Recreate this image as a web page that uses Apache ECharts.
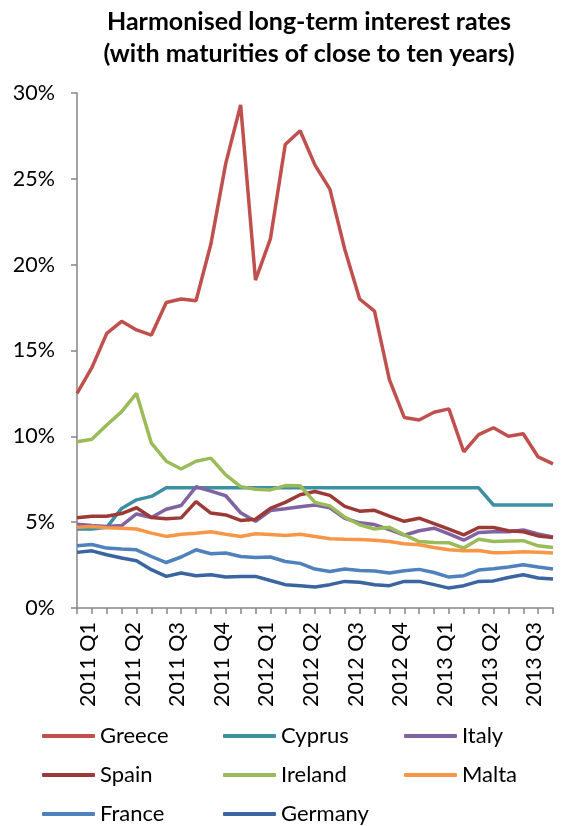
<!DOCTYPE html>
<html>
<head>
<meta charset="utf-8">
<script src="https://cdn.jsdelivr.net/npm/echarts@6/dist/echarts.min.js"></script>
<style>
  html, body { margin: 0; padding: 0; background: #fff; }
  #chart { width: 582px; height: 826px; }
</style>
</head>
<body>
<div id="chart"></div>
<script>
// monthly observations, Mar 2011 .. Nov 2013
var months = [
  "2011-03", "2011-04", "2011-05", "2011-06", "2011-07", "2011-08", "2011-09", "2011-10", "2011-11", "2011-12",
  "2012-01", "2012-02", "2012-03", "2012-04", "2012-05", "2012-06", "2012-07", "2012-08", "2012-09", "2012-10", "2012-11", "2012-12",
  "2013-01", "2013-02", "2013-03", "2013-04", "2013-05", "2013-06", "2013-07", "2013-08", "2013-09", "2013-10", "2013-11"
];
// one label every third month
var quarterLabels = [
  "2011 Q1", "2011 Q2", "2011 Q3", "2011 Q4",
  "2012 Q1", "2012 Q2", "2012 Q3", "2012 Q4",
  "2013 Q1", "2013 Q2", "2013 Q3"
];

var greece = [12.5, 14.0, 16.0, 16.7, 16.2, 15.9, 17.8, 18.0, 17.9, 21.2, 25.9, 29.3, 19.1, 21.5, 27.0, 27.8, 25.8, 24.4, 20.9, 18.0, 17.3, 13.3, 11.1, 10.95, 11.4, 11.6, 9.1, 10.1, 10.5, 10.0, 10.15, 8.8, 8.4];
var cyprus = [4.6, 4.6, 4.7, 5.8, 6.3, 6.5, 7.0, 7.0, 7.0, 7.0, 7.0, 7.0, 7.0, 7.0, 7.0, 7.0, 7.0, 7.0, 7.0, 7.0, 7.0, 7.0, 7.0, 7.0, 7.0, 7.0, 7.0, 7.0, 6.0, 6.0, 6.0, 6.0, 6.0];
var italy = [4.88, 4.8, 4.75, 4.8, 5.48, 5.27, 5.75, 5.97, 7.06, 6.81, 6.54, 5.55, 5.05, 5.68, 5.78, 5.9, 6.0, 5.84, 5.23, 4.96, 4.86, 4.56, 4.24, 4.5, 4.65, 4.32, 3.95, 4.4, 4.44, 4.44, 4.54, 4.31, 4.14];
var spain = [5.26, 5.35, 5.35, 5.5, 5.84, 5.27, 5.2, 5.25, 6.2, 5.53, 5.42, 5.1, 5.17, 5.8, 6.15, 6.6, 6.79, 6.56, 5.92, 5.64, 5.69, 5.35, 5.05, 5.23, 4.91, 4.6, 4.26, 4.69, 4.69, 4.5, 4.44, 4.2, 4.1];
var ireland = [9.69, 9.83, 10.66, 11.44, 12.5, 9.6, 8.55, 8.1, 8.55, 8.73, 7.75, 7.07, 6.92, 6.88, 7.13, 7.12, 6.15, 5.95, 5.29, 4.85, 4.6, 4.7, 4.26, 3.87, 3.82, 3.8, 3.49, 4.0, 3.87, 3.9, 3.92, 3.62, 3.53];
var malta = [4.71, 4.75, 4.67, 4.65, 4.6, 4.36, 4.17, 4.3, 4.36, 4.44, 4.3, 4.17, 4.32, 4.28, 4.22, 4.3, 4.17, 4.03, 4.0, 3.99, 3.95, 3.87, 3.74, 3.68, 3.53, 3.39, 3.33, 3.35, 3.22, 3.24, 3.27, 3.25, 3.2];
var france = [3.62, 3.7, 3.49, 3.43, 3.39, 3.0, 2.65, 2.97, 3.39, 3.16, 3.2, 3.0, 2.94, 2.97, 2.71, 2.6, 2.27, 2.13, 2.27, 2.19, 2.15, 2.04, 2.17, 2.25, 2.07, 1.8, 1.88, 2.21, 2.29, 2.39, 2.52, 2.39, 2.27];
var germany = [3.24, 3.33, 3.1, 2.91, 2.75, 2.23, 1.84, 2.04, 1.88, 1.94, 1.8, 1.84, 1.84, 1.6, 1.36, 1.3, 1.22, 1.36, 1.55, 1.5, 1.36, 1.3, 1.55, 1.55, 1.36, 1.16, 1.3, 1.55, 1.58, 1.78, 1.94, 1.75, 1.69];

var FONT = "Lato";
var colors = {
  Greece: "#c0504d",
  Cyprus: "#3d8fa4",
  Italy: "#8064a2",
  Spain: "#9b3a37",
  Ireland: "#9bbb59",
  Malta: "#f79646",
  France: "#4f81bd",
  Germany: "#3a65a0"
};

function makeLine(name, data) {
  return {
    name: name,
    type: "line",
    data: data,
    showSymbol: false,
    symbol: "none",
    color: colors[name],
    lineStyle: { width: 3.5, color: colors[name] },
    emphasis: { disabled: true },
    animation: false
  };
}

// one legend per row, fixed text width so the columns line up
function makeLegend(top, names) {
  return {
    orient: "horizontal",
    left: 42,
    right: 0,
    top: top,
    padding: 0,
    data: names,
    icon: "roundRect",
    itemWidth: 53,
    itemHeight: 4,
    itemGap: 5,
    selectedMode: false,
    textStyle: { fontFamily: FONT, fontSize: 22, color: "#000", lineHeight: 24, width: 118 }
  };
}

var chartDom = document.getElementById("chart");
var myChart = echarts.init(chartDom, null, { renderer: "canvas" });
var option;

option = {
  backgroundColor: "#fff",
  title: {
    text: "Harmonised long-term interest rates\n(with maturities of close to ten years)",
    left: 309,
    textAlign: "center",
    top: 6,
    padding: 0,
    textStyle: {
      fontFamily: FONT,
      fontWeight: "bold",
      fontSize: 25,
      lineHeight: 32,
      color: "#000"
    }
  },
  legend: [
    makeLegend(724, ["Greece", "Cyprus", "Italy"]),
    makeLegend(763, ["Spain", "Ireland", "Malta"]),
    makeLegend(802, ["France", "Germany"])
  ],
  grid: {
    left: 77,
    right: 29,
    top: 93,
    bottom: 218,
    containLabel: false
  },
  xAxis: {
    type: "category",
    data: months,
    boundaryGap: false,
    axisLine: { lineStyle: { color: "#868686", width: 1.5 } },
    axisTick: { show: true, interval: 0, length: 6, lineStyle: { color: "#868686", width: 1.5 } },
    axisLabel: {
      interval: 0,
      rotate: 90,
      margin: 14,
      verticalAlign: "top",
      fontFamily: FONT,
      fontSize: 21.5,
      color: "#000",
      formatter: function (value, index) {
        return index % 3 === 0 ? quarterLabels[index / 3] : "";
      }
    },
    splitLine: { show: false }
  },
  yAxis: {
    type: "value",
    min: 0,
    max: 30,
    interval: 5,
    axisLine: { show: true, lineStyle: { color: "#868686", width: 1.5 } },
    axisTick: { show: true, length: 6, lineStyle: { color: "#868686", width: 1.5 } },
    axisLabel: {
      margin: 22,
      fontFamily: FONT,
      fontSize: 21.5,
      color: "#000",
      formatter: "{value}%"
    },
    splitLine: { show: false }
  },
  series: [
    makeLine("Greece", greece),
    makeLine("Cyprus", cyprus),
    makeLine("Italy", italy),
    makeLine("Spain", spain),
    makeLine("Ireland", ireland),
    makeLine("Malta", malta),
    makeLine("France", france),
    makeLine("Germany", germany)
  ]
};

option && myChart.setOption(option);
</script>
</body>
</html>
